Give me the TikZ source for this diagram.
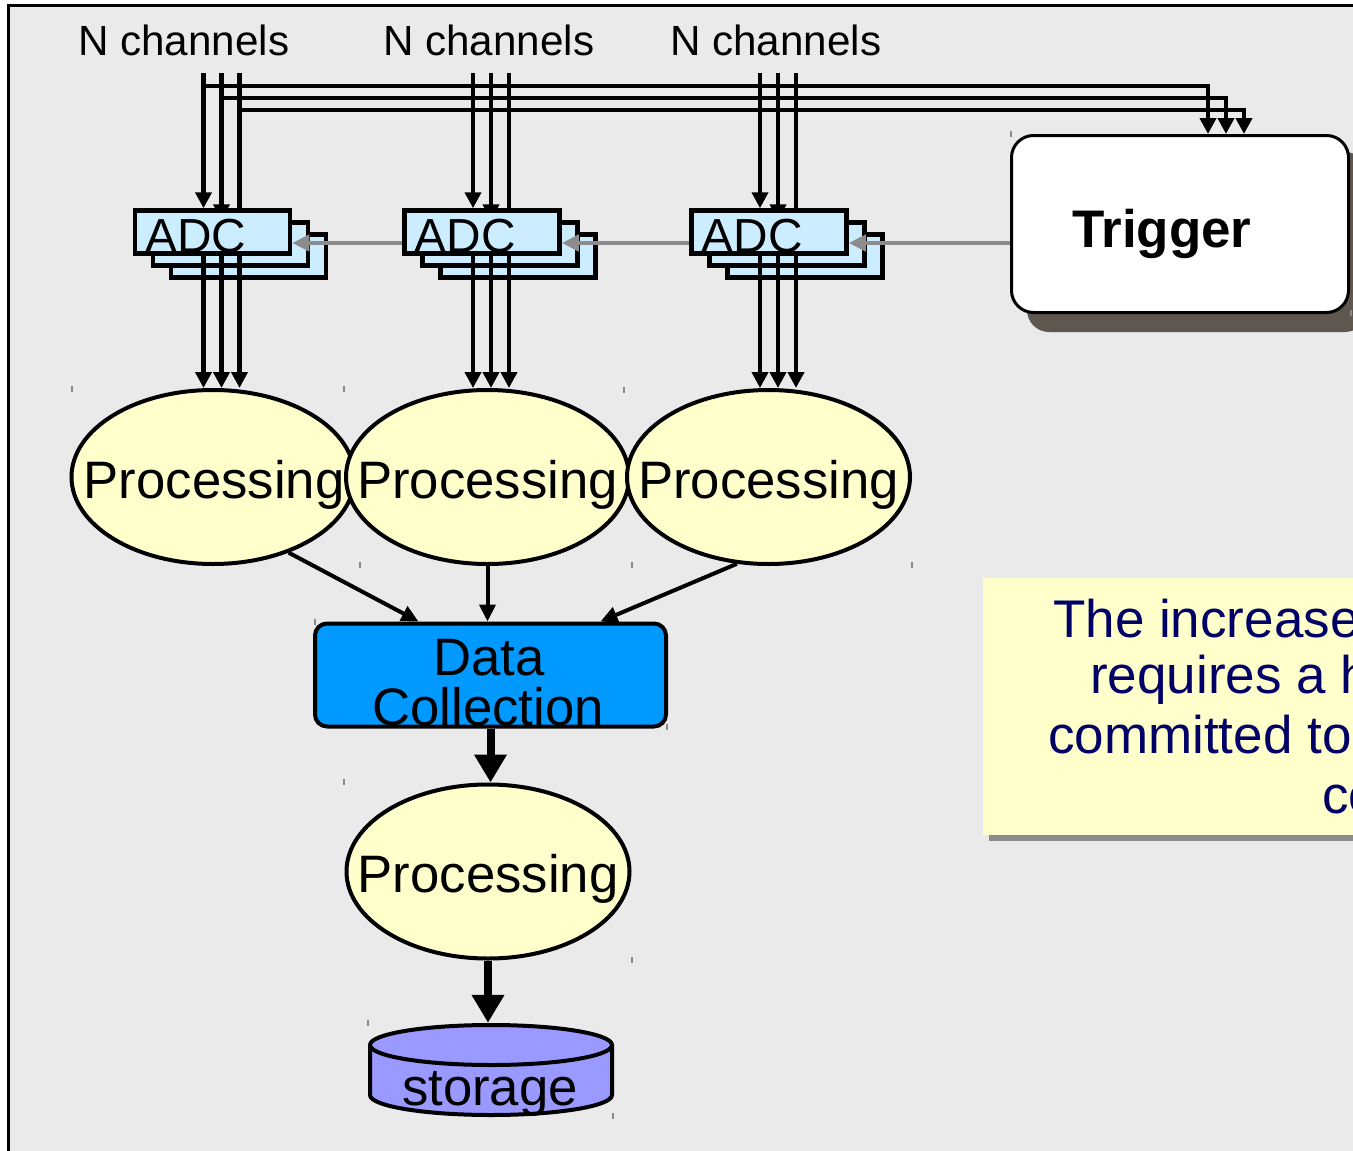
\documentclass[tikz,border=0pt]{standalone}
\usepackage{fontspec}
\setmainfont{Liberation Sans}
\usetikzlibrary{arrows.meta,calc,shapes.geometric}

\definecolor{panel}{HTML}{EAEAEA}
\definecolor{adcfill}{HTML}{CCECFF}
\definecolor{procfill}{HTML}{FFFFCC}
\definecolor{dcfill}{HTML}{0099FF}
\definecolor{storfill}{HTML}{9999FF}
\definecolor{notefill}{HTML}{FFFFCC}
\definecolor{notetext}{HTML}{000066}
\definecolor{noteshadow}{HTML}{8C8C8C}
\definecolor{trigshadow}{HTML}{5E574F}
\definecolor{ctlgray}{HTML}{8C8C8C}
\definecolor{tickgray}{HTML}{8A8A8A}

\newcommand\sizeto[1]{\fontsize{#1pt}{#1pt}\selectfont}

\pgfdeclarelayer{canvas}
\pgfdeclarelayer{wires}
\pgfsetlayers{canvas,wires,main}

\begin{document}
\begin{tikzpicture}[x=1pt,y=-1pt,
  adcbox/.style={draw,line width=4.5pt,fill=adcfill,minimum width=155pt,minimum height=43pt,inner sep=0pt},
  adclabel/.style={inner sep=0pt,font=\sizeto{47.8}},
  proc/.style={ellipse,draw,line width=4pt,fill=procfill,minimum width=283pt,minimum height=174pt,inner sep=0pt},
  bigtext/.style={inner sep=0pt,font=\sizeto{52.7}},
  chantext/.style={inner sep=0pt,font=\sizeto{42.2},anchor=base west},
  notetxt/.style={inner sep=0pt,font=\sizeto{53},text=notetext,anchor=base west},
  chanarrow/.style={line width=4.5pt,-{Triangle[length=16pt,width=16pt]}},
  arr/.style={line width=4pt,-{Triangle[length=17pt,width=16pt]}},
  ctl/.style={draw=ctlgray,line width=4.5pt,-{Triangle[length=17pt,width=16pt]}},
  fat/.style={line width=8pt,-{Triangle[length=28pt,width=31pt]}},
  tick/.style={draw=tickgray,line width=1.2pt},
]
\useasboundingbox (0,0) rectangle (1353,1151);

% panel background and frame
\begin{pgfonlayer}{canvas}
  \fill[white] (0,0) rectangle (1353,1151);
  \fill[panel] (8,5) rectangle (1380,1180);
  \draw[line width=3pt] (8,1180) -- (8,5) -- (1380,5);
\end{pgfonlayer}

% channel labels
\node[chantext] (lab1) at (78,55) {N channels};
\node[chantext] (lab2) at (383,55) {N channels};
\node[chantext] (lab3) at (670,55) {N channels};

% trigger box with its shadow
\node[draw=none,fill=trigshadow,rounded corners=22pt,minimum width=340pt,minimum height=180pt,inner sep=0pt] (trigshade) at (1197,242) {};
\node[draw,line width=3pt,fill=white,rounded corners=22pt,minimum width=337pt,minimum height=177pt,inner sep=0pt] (trig) at (1180,224) {};
\node[inner sep=0pt,anchor=base west,font=\sizeto{52.9}\bfseries] (trigt) at (1072,247) {Trigger};

% note box
\node[fill=noteshadow,minimum width=457pt,minimum height=257pt,inner sep=0pt] (noteshade) at (1217.5,712.5) {};
\node[fill=notefill,minimum width=457pt,minimum height=257pt,inner sep=0pt] (note) at (1211.5,706.5) {};
\node[notetxt] (n1) at (1053,637) {The increase};
\node[notetxt] (n2) at (1090,693) {requires a h};
\node[notetxt] (n3) at (1048,753) {committed to};
\node[notetxt] (n4) at (1322,813) {co};

% stacked ADC boards and channel coordinates
\foreach \g/\cx in {1/212.5,2/482,3/769}{
  \node[adcbox] (adc\g c) at (\cx+36,256) {};
  \node[adcbox] (adc\g b) at (\cx+18,244) {};
  \node[adcbox] (adc\g) at (\cx,232) {};
  \node[adclabel,anchor=base west] (adc\g t) at (\cx-67.5,252) {ADC};
  \foreach \k in {0,1,2}{
    \coordinate (ch\g\k) at (\cx-9+18*\k,73);
  }
}

% processing stages
\node[proc] (p1) at (213,477) {};
\node[bigtext,anchor=base] (p1t) at ($(p1)+(1,21)$) {Processing};
\node[proc] (p2) at (487.5,477) {};
\node[bigtext,anchor=base] (p2t) at ($(p2)+(0,21)$) {Processing};
\node[proc] (p3) at (768.5,477) {};
\node[bigtext,anchor=base] (p3t) at ($(p3)+(0,21)$) {Processing};

% data collection
\node[draw,line width=4pt,fill=dcfill,rounded corners=12pt,minimum width=351pt,minimum height=103pt,inner sep=0pt] (dc) at (490.5,675) {};
\node[bigtext,anchor=base] (dct1) at (489,675) {Data};
\node[bigtext,anchor=base] (dct2) at (488,725) {Collection};

\node[proc] (p4) at (488,871.5) {};
\node[bigtext,anchor=base] (p4t) at ($(p4)+(0,21)$) {Processing};

% storage cylinder
\node[minimum width=247pt,minimum height=94pt,inner sep=0pt] (stor) at (491,1070) {};
\fill[storfill] (370,1045) rectangle (612,1095);
\fill[storfill] (491,1095) ellipse [x radius=121,y radius=20];
\draw[line width=4pt] (370,1045) -- (370,1095) arc[start angle=180,end angle=0,x radius=121,y radius=20] -- (612,1045);
\filldraw[fill=storfill,draw=black,line width=4pt] (491,1045) ellipse [x radius=121,y radius=20];
\node[bigtext,anchor=base] (stort) at (490,1105) {storage};

% channels entering the ADC boards and branching to the trigger
\coordinate (tr0) at (1208,86);
\coordinate (tr1) at (1226,98);
\coordinate (tr2) at (1244,110);
\begin{pgfonlayer}{wires}
  \foreach \g in {1,2,3}{
    \foreach \k/\s in {0/,1/b,2/c}{
      \draw[chanarrow] (ch\g\k) -- (ch\g\k |- adc\g\s.north);
    }
  }
  \foreach \k in {0,1,2}{
    \draw[chanarrow] (ch1\k |- tr\k) -- (tr\k) -- (tr\k |- trig.north);
  }
\end{pgfonlayer}

% digitised channels into the processing stages
\foreach \g in {1,2,3}{
  \foreach \k in {0,1,2}{
    \draw[chanarrow] (ch\g\k |- adc\g.south) -- (ch\g\k |- p\g.north);
  }
}

% trigger distribution
\draw[ctl] (trig.west |- 0,243) -- (adc3.east |- 0,243);
\draw[ctl] (adc3.west |- 0,243) -- (adc2.east |- 0,243);
\draw[ctl] (adc2.west |- 0,243) -- (adc1.east |- 0,243);

% event flow
\draw[arr] (p1.-45) -- ($(dc.north)+(-72,0)$);
\draw[arr] (p2.south) -- (p2.south |- dc.north);
\draw[arr] (p3.-110) -- ($(dc.north)+(110,0)$);
\draw[fat] (dc.south) -- (dc.south |- p4.north);
\draw[fat] (p4.south) -- (p4.south |- stor.north);

% selection handles
\foreach \x/\y in {72/389,344/389,624/390,360/565,632/565,912/565,315/622,667/727,344/782,632/960,368/1023,613/1116,1011/134,1351/313}{
  \draw[tick] (\x,\y-3) -- (\x,\y+3);
}
\end{tikzpicture}
\end{document}
